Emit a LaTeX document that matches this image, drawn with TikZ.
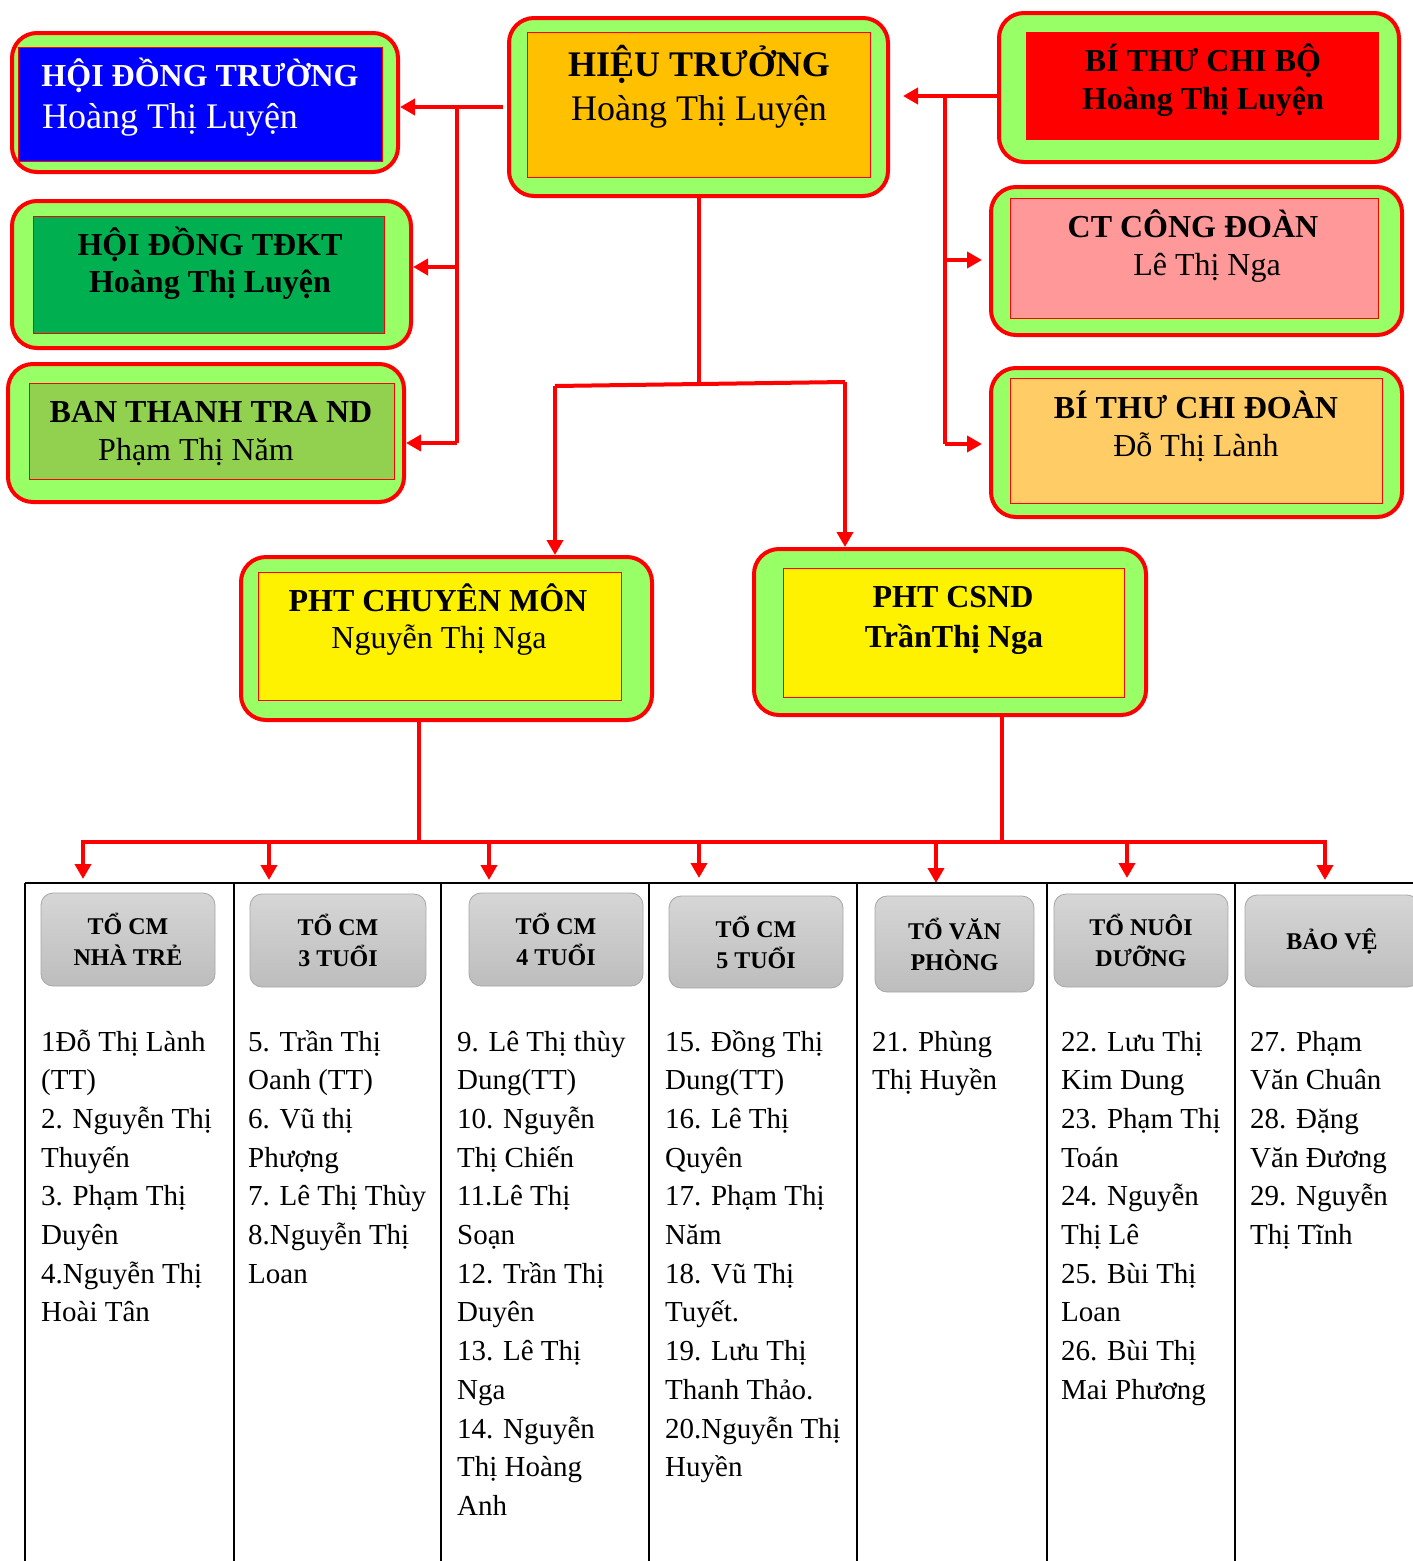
\documentclass[tikz,border=0pt]{standalone}
\usepackage{fontspec}
\setmainfont{Liberation Serif}
\usetikzlibrary{arrows.meta}

\definecolor{boxgreen}{HTML}{99FF66}
\definecolor{hdtblue}{HTML}{0000FF}
\definecolor{tdktgreen}{HTML}{00B050}
\definecolor{bttgreen}{HTML}{92D050}
\definecolor{htorange}{HTML}{FFC000}
\definecolor{ctcdpink}{HTML}{FF9999}
\definecolor{btcdorange}{HTML}{FFCC66}
\definecolor{grptop}{HTML}{D6D6D6}
\definecolor{grpbot}{HTML}{BDBDBD}
\definecolor{grpedge}{HTML}{A6A6A6}

\tikzset{
    outerbox/.style={draw=red, line width=4pt, fill=boxgreen, rounded corners=25pt, inner sep=0pt},
    innerbox/.style={draw=red, line width=0.8pt, inner sep=0pt},
    ttl/.style={font=\bfseries\fontsize{32}{38}\selectfont},
    who/.style={font=\fontsize{32}{38}\selectfont},
    conn/.style={draw=red, line width=4pt, >={Triangle[length=15pt,width=16pt]}},
    grp/.style={draw=grpedge, line width=0.8pt, rounded corners=12pt, top color=grptop, bottom color=grpbot,
        align=center, inner sep=0pt, font=\bfseries\fontsize{24}{31}\selectfont},
    % base of a multi-line node = baseline of its last line
    lst/.style={anchor=base west, inner sep=0pt, align=left, font=\fontsize{29}{38.7}\selectfont}
}

\begin{document}
\begin{tikzpicture}[x=1pt,y=-1pt]
    \useasboundingbox (0,0) rectangle (1413,1561);
    \clip (0,0) rectangle (1413,1561);

    % outer frames
    \begin{scope}[every node/.style={outerbox}]
        \node[minimum width=386pt, minimum height=139pt] (hdt) at (205,102.5) {};
        \node[minimum width=399pt, minimum height=147pt] (tdkt) at (211.5,274.5) {};
        \node[minimum width=396pt, minimum height=138pt] (btt) at (206,433) {};
        \node[minimum width=379pt, minimum height=178pt] (ht) at (698.5,107) {};
        \node[minimum width=400pt, minimum height=149pt] (btcb) at (1199,87.5) {};
        \node[minimum width=411pt, minimum height=148pt] (ctcd) at (1196.5,261) {};
        \node[minimum width=411pt, minimum height=149pt] (btcd) at (1196.5,442.5) {};
        \node[minimum width=411pt, minimum height=163pt] (pcm) at (446.5,638.5) {};
        \node[minimum width=392pt, minimum height=166pt] (pcs) at (950,632) {};
    \end{scope}

    % inner boxes
    \begin{scope}[every node/.style={innerbox}]
        \node[fill=hdtblue, minimum width=364pt, minimum height=114pt] (hdt-in) at (200,104) {};
        \node[fill=tdktgreen, minimum width=351pt, minimum height=117pt] (tdkt-in) at (208.5,274.5) {};
        \node[fill=bttgreen, minimum width=365pt, minimum height=96pt] (btt-in) at (211.5,431) {};
        \node[fill=htorange, minimum width=343pt, minimum height=145pt] (ht-in) at (698.5,104.5) {};
        \node[fill=red, minimum width=352pt, minimum height=107pt] (btcb-in) at (1202,85.5) {};
        \node[fill=ctcdpink, minimum width=368pt, minimum height=120pt] (ctcd-in) at (1194,258) {};
        \node[fill=btcdorange, minimum width=372pt, minimum height=125pt] (btcd-in) at (1196,440.5) {};
        \node[fill=yellow, minimum width=363pt, minimum height=128pt] (pcm-in) at (439.5,636) {};
        \node[fill=yellow, minimum width=341pt, minimum height=129pt] (pcs-in) at (953.5,632.5) {};
    \end{scope}

    % titles and names
    \begin{scope}[every node/.style={anchor=base, inner sep=0pt}]
        \node[ttl, text=white] (hdt-a) at (200,86) {HỘI ĐỒNG TRƯỜNG};
        \node[text=white, font=\fontsize{36}{40}\selectfont] (hdt-b) at (170,128) {Hoàng Thị Luyện};
        \node[ttl] (tdkt-a) at (210,255) {HỘI ĐỒNG TĐKT};
        \node[ttl] (tdkt-b) at (210,292) {Hoàng Thị Luyện};
        \node[ttl] (btt-a) at (211,422) {BAN THANH TRA ND};
        \node[who] (btt-b) at (196,460) {Phạm Thị Năm};
        \node[font=\bfseries\fontsize{36}{40}\selectfont] (ht-a) at (699,76) {HIỆU TRƯỞNG};
        \node[font=\fontsize{36}{40}\selectfont] (ht-b) at (699,120) {Hoàng Thị Luyện};
        \node[ttl] (btcb-a) at (1203,71) {BÍ THƯ CHI BỘ};
        \node[ttl] (btcb-b) at (1203,109) {Hoàng Thị Luyện};
        \node[ttl] (ctcd-a) at (1193,237) {CT CÔNG ĐOÀN};
        \node[who] (ctcd-b) at (1207,275) {Lê Thị Nga};
        \node[ttl] (btcd-a) at (1196,418) {BÍ THƯ CHI ĐOÀN};
        \node[who] (btcd-b) at (1196,456) {Đỗ Thị Lành};
        \node[ttl] (pcm-a) at (438,611) {PHT CHUYÊN MÔN};
        \node[who] (pcm-b) at (439,648) {Nguyễn Thị Nga};
        \node[ttl] (pcs-a) at (953,607) {PHT CSND};
        \node[ttl] (pcs-b) at (954,647) {TrầnThị Nga};
    \end{scope}

    % left branch
    \coordinate (lj1) at (457,107);
    \coordinate (lj2) at (457,267);
    \coordinate (lj3) at (457,443);
    \draw[conn, shorten <=4pt] (ht.west) -- (lj1) -- (lj3);
    \draw[conn, ->] (lj1) -- (lj1 -| hdt.east);
    \draw[conn, ->] (lj2) -- (lj2 -| tdkt.east);
    \draw[conn, ->] (lj3) -- (lj3 -| btt.east);

    % right branch
    \coordinate (rj1) at (945,96);
    \coordinate (rj2) at (945,260);
    \coordinate (rj3) at (945,444);
    \draw[conn, ->, shorten >=13pt] (btcb.west |- rj1) -- (rj1 -| ht.east);
    \draw[conn] (rj1) -- (rj3);
    \draw[conn, ->, shorten >=7pt] (rj2) -- (rj2 -| ctcd.west);
    \draw[conn, ->, shorten >=7pt] (rj3) -- (rj3 -| btcd.west);

    % vice principals
    \coordinate (hj) at (699,384);
    \coordinate (hl) at (555,386);
    \coordinate (hr) at (845,382);
    \draw[conn] (ht.south -| hj) -- (hj);
    \draw[conn] (hl) -- (hr);
    \draw[conn, ->] (hl) -- (hl |- pcm.north);
    \draw[conn, ->] (hr) -- (hr |- pcs.north);

    % groups bar
    \coordinate (bl) at (81,842);
    \coordinate (br) at (1327,842);
    \coordinate (bj1) at (419,842);
    \coordinate (bj2) at (1002,842);
    \draw[conn] (bl) -- (br);
    \draw[conn] (pcm.south -| bj1) -- (bj1);
    \draw[conn] (pcs.south -| bj2) -- (bj2);

    \coordinate (g1) at (83,879);
    \coordinate (g2) at (269,880);
    \coordinate (g3) at (489,880);
    \coordinate (g4) at (699,878);
    \coordinate (g5) at (936,883);
    \coordinate (g6) at (1127,878);
    \coordinate (g7) at (1325,880);
    \draw[conn, ->] (g1 |- bl) -- (g1);
    \draw[conn, ->] (g2 |- bl) -- (g2);
    \draw[conn, ->] (g3 |- bl) -- (g3);
    \draw[conn, ->] (g4 |- bl) -- (g4);
    \draw[conn, ->] (g5 |- bl) -- (g5);
    \draw[conn, ->] (g6 |- bl) -- (g6);
    \draw[conn, ->] (g7 |- bl) -- (g7);

    % table grid
    \draw[line width=2pt] (25,883) -- (1420,883);
    \draw[line width=2pt] (25,883) -- (25,1570);
    \draw[line width=2pt] (234,883) -- (234,1570);
    \draw[line width=2pt] (441,883) -- (441,1570);
    \draw[line width=2pt] (649,883) -- (649,1570);
    \draw[line width=2pt] (857,883) -- (857,1570);
    \draw[line width=2pt] (1047,883) -- (1047,1570);
    \draw[line width=2pt] (1235,883) -- (1235,1570);

    % group heads
    \node[grp, minimum width=174pt, minimum height=93pt] (nt) at (128,939.5) {TỔ CM\\NHÀ TRẺ};
    \node[grp, minimum width=176pt, minimum height=93pt] (t3) at (338,940.5) {TỔ CM\\3 TUỔI};
    \node[grp, minimum width=174pt, minimum height=93pt] (t4) at (556,939.5) {TỔ CM\\4 TUỔI};
    \node[grp, minimum width=174pt, minimum height=92pt] (t5) at (756,942) {TỔ CM\\5 TUỔI};
    \node[grp, minimum width=159pt, minimum height=96pt] (vp) at (954.5,944) {TỔ VĂN\\PHÒNG};
    \node[grp, minimum width=174pt, minimum height=93pt] (nd) at (1141,940.5) {TỔ NUÔI\\DƯỠNG};
    \node[grp, minimum width=174pt, minimum height=92pt] (bv) at (1332,941) {BẢO VỆ};

    % member lists (placed at the last line's baseline)
    \node[lst] (l-nt) at (41,1321.9) {1Đỗ Thị Lành\\(TT)\\2. Nguyễn Thị\\Thuyến\\3. Phạm Thị\\Duyên\\4.Nguyễn Thị\\Hoài Tân};
    \node[lst] (l-t3) at (248,1283.2) {5. Trần Thị\\Oanh (TT)\\6. Vũ thị\\Phượng\\7. Lê Thị Thùy\\8.Nguyễn Thị\\Loan};
    \node[lst] (l-t4) at (457,1515.4) {9. Lê Thị thùy\\Dung(TT)\\10. Nguyễn\\Thị Chiến\\11.Lê Thị\\Soạn\\12. Trần Thị\\Duyên\\13. Lê Thị\\Nga\\14. Nguyễn\\Thị Hoàng\\Anh};
    \node[lst] (l-t5) at (665,1476.7) {15. Đồng Thị\\Dung(TT)\\16. Lê Thị\\Quyên\\17. Phạm Thị\\Năm\\18. Vũ Thị\\Tuyết.\\19. Lưu Thị\\Thanh Thảo.\\20.Nguyễn Thị\\Huyền};
    \node[lst] (l-vp) at (872,1089.7) {21. Phùng\\Thị Huyền};
    \node[lst] (l-nd) at (1061,1399.3) {22. Lưu Thị\\Kim Dung\\23. Phạm Thị\\Toán\\24. Nguyễn\\Thị Lê\\25. Bùi Thị\\Loan\\26. Bùi Thị\\Mai Phương};
    \node[lst] (l-bv) at (1250,1244.5) {27. Phạm\\Văn Chuân\\28. Đặng\\Văn Đương\\29. Nguyễn\\Thị Tĩnh};
\end{tikzpicture}
\end{document}
